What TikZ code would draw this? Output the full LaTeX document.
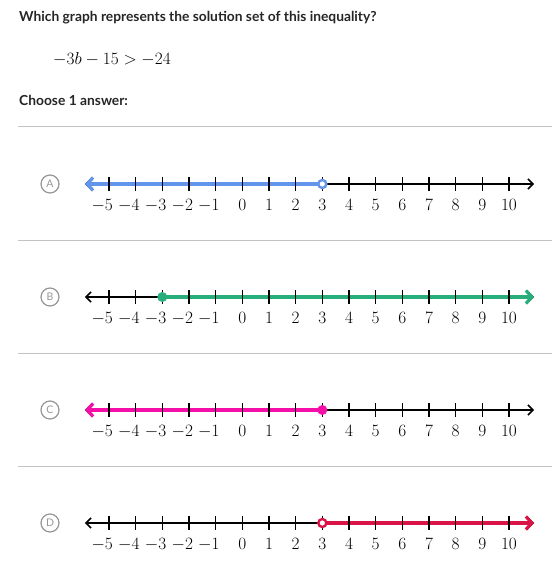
\documentclass[tikz,border=0pt]{standalone}
\usepackage{fontspec}
\setsansfont{Lato}
\usetikzlibrary{arrows.meta, positioning}
\definecolor{ka_blue}{HTML}{6495ED}
\definecolor{ka_green}{HTML}{28AE7B}
\definecolor{ka_pink}{HTML}{F50FA8}
\definecolor{ka_red}{HTML}{D91446}
\definecolor{ka_gray}{RGB}{150, 150, 150}
\definecolor{ka_rule}{RGB}{195, 195, 195}
\tikzset {
  prompt/.style = {anchor=base west, inner sep=0, text=black!85, font=\sffamily\bfseries\fontsize{13.8}{16}\selectfont},
  ineq/.style = {anchor=base west, inner sep=0, font=\fontsize{16.8}{20}\selectfont},
  rule/.style = {draw=ka_rule, line width=1pt},
  choice/.style = {draw=ka_gray, circle, line width=1.2pt, minimum size=18pt, inner sep=0, text=ka_gray, font=\sffamily\fontsize{10.5}{12}\selectfont},
  axis/.style = {black, line width=1.6pt, {Straight Barb[length=5pt, width=10pt]}-{Straight Barb[length=5pt, width=10pt]}},
  tick/.style = {black, line width=1.3pt},
  ticklabel/.style = {anchor=base, inner sep=0, font=\fontsize{17}{20}\selectfont},
  sol/.style = {#1, line width=3.2pt},
  toleft/.style = {{Straight Barb[length=6pt, width=13pt]}-},
  toright/.style = {-{Straight Barb[length=6pt, width=13pt]}},
  dotfill/.style = {circle, inner sep=0, minimum size=10pt, fill=#1},
  dothollow/.style = {circle, inner sep=0, minimum size=8pt, draw=#1, line width=2.4pt, fill=white}
}

\begin{document}
\begin{tikzpicture}[x=1pt, y=-1pt]
  \useasboundingbox (0,0) rectangle (552,564);

  % question
  \node[prompt] (title) at (19,22) {Which graph represents the solution set of this inequality?};
  \node[ineq] (ineq) at (53,65) {$-3b-15>-24$};
  \node[prompt] (choose) at (19,106) {Choose 1 answer:};

  % the four number lines
  \foreach \l/\y in {A/184, B/297, C/410, D/523} {
    \coordinate (\l-rule-w) at (18,\y-57);
    \coordinate (\l-rule-e) at (552,\y-57);
    \draw[rule] (\l-rule-w) -- (\l-rule-e);
    \node[choice] (\l-choice) at (50,\y) {\l};
    \begin{scope}[shift={(242.3,\y)}, x=26.67pt]
      \coordinate (\l-lo) at (-5.9,0);
      \coordinate (\l-hi) at (10.94,0);
      \coordinate (\l-m3) at (-3,0);
      \coordinate (\l-3) at (3,0);
    \end{scope}
    \draw[axis] (\l-lo) -- (\l-hi);
  }

  % solution sets
  \draw[sol=ka_blue, toleft] (A-lo) -- (A-3);
  \draw[sol=ka_green, toright] (B-m3) -- (B-hi);
  \draw[sol=ka_pink, toleft] (C-lo) -- (C-3);
  \draw[sol=ka_red, toright] (D-3) -- (D-hi);

  % ticks and labels
  \foreach \y in {184, 297, 410, 523} {
    \begin{scope}[shift={(242.3,\y)}, x=26.67pt]
      \foreach \n in {-5,...,10} {
        \draw[tick] (\n,-7) -- (\n,7);
      }
      \foreach \n in {1,...,5} {
        \node[ticklabel] at (-\n,26) {\llap{$-$}$\n$};
      }
      \foreach \n in {0,...,10} {
        \node[ticklabel] at (\n,26) {$\n$};
      }
    \end{scope}
  }

  % end points
  \node[dothollow=ka_blue] (A-pt) at (A-3) {};
  \node[dotfill=ka_green] (B-pt) at (B-m3) {};
  \node[dotfill=ka_pink] (C-pt) at (C-3) {};
  \node[dothollow=ka_red] (D-pt) at (D-3) {};

\end{tikzpicture}
\end{document}
